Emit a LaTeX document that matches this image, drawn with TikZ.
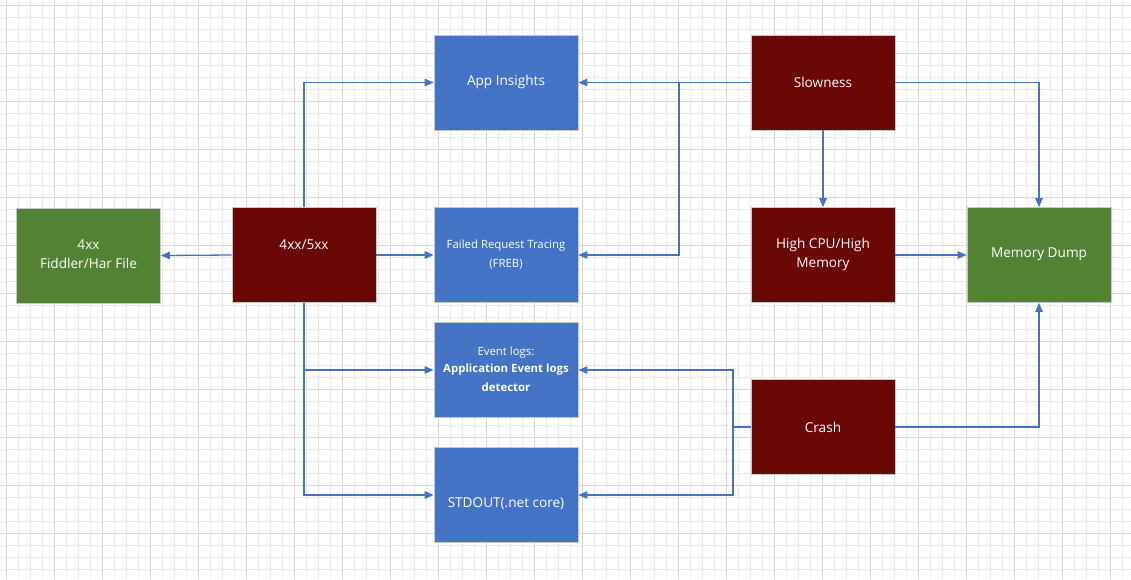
\documentclass[tikz,border=0pt]{standalone}
\usepackage{fontspec}
\setmainfont{Open Sans}
\usetikzlibrary{arrows.meta}
\definecolor{boxblue}{HTML}{4472C4}
\definecolor{boxred}{HTML}{6A0707}
\definecolor{boxgreen}{HTML}{548235}
\definecolor{linkblue}{HTML}{4472C4}
\definecolor{minorgrid}{HTML}{E8E8E8}
\definecolor{majorgrid}{HTML}{D4D4D4}
\begin{document}
\begin{tikzpicture}[x=1pt,y=-1pt,
  box/.style={draw=black!22, line width=0.8pt, minimum width=144pt, minimum height=95pt, inner sep=0pt, text=white, align=center},
  bluebox/.style={box, fill=boxblue},
  redbox/.style={box, fill=boxred},
  greenbox/.style={box, fill=boxgreen},
  link/.style={draw=linkblue, line width=1.3pt, -{Triangle[length=9pt,width=7.5pt]}},
  plainlink/.style={draw=linkblue, line width=1.3pt},
  lbl/.style={text=white, align=center, font=\fontsize{13.6}{19}\selectfont},
  small/.style={text=white, align=center, font=\fontsize{11.4}{19}\selectfont}
]
\useasboundingbox (0,0) rectangle (1131,579);
\fill[white] (0,0) rectangle (1131,579);
% grid
\foreach \i in {0,...,94} {\draw[minorgrid, line width=0.8pt] ({6+12*\i},0) -- ({6+12*\i},579);}
\foreach \j in {0,...,48} {\draw[minorgrid, line width=0.8pt] (0,{5+12*\j}) -- (1131,{5+12*\j});}
\foreach \i in {0,...,23} {\draw[majorgrid, line width=1pt] ({6+48*\i},0) -- ({6+48*\i},579);}
\foreach \j in {0,...,12} {\draw[majorgrid, line width=1pt] (0,{5+48*\j}) -- (1131,{5+48*\j});}

% boxes
\node[greenbox] (fid) at (88.5,255.5) {};
\node[redbox] (err) at (304,255) {};
\node[bluebox] (app) at (506,82.5) {};
\node[bluebox] (freb) at (506,255) {};
\node[bluebox] (evt) at (506,370) {};
\node[bluebox] (std) at (506,495) {};
\node[redbox] (slow) at (823,82.5) {};
\node[redbox] (cpu) at (823,255) {};
\node[greenbox] (mem) at (1039,255) {};
\node[redbox] (crash) at (823,427) {};

% labels
\node[lbl] (tfid) at (88.5,254.5) {4xx\\Fiddler/Har File};
\node[lbl] (terr) at (304,245) {4xx/5xx};
\node[lbl] (tapp) at (506,82) {App Insights};
\node[small] (tfreb) at (506,254.5) {Failed Request Tracing\\(FREB)};
\node[small] (tevt) at (506,369) {Event logs:\\[-2pt]\textbf{Application Event logs}\\\textbf{detector}};
\node[lbl] (tstd) at (506,504) {STDOUT(.net core)};
\node[lbl] (tslow) at (823,82) {Slowness};
\node[lbl] (tcpu) at (823,254.5) {High CPU/High\\Memory};
\node[lbl] (tmem) at (1039,254) {Memory Dump};
\node[lbl] (tcrash) at (823,427) {Crash};

% junction coordinates
\coordinate (j1) at (679,82.5);
\coordinate (j2) at (733,427);

% connectors from 4xx/5xx
\draw[link] (err.west) -- (fid.east);
\draw[link] (err.east) -- (freb.west);
\draw[link] (err.north) |- (app.west);
\draw[link] (err.south) |- (evt.west);
\draw[link] (err.south) |- (std.west);

% connectors from Slowness
\draw[link] (slow.west) -- (app.east);
\draw[link] (j1) |- (freb.east);
\draw[link] (slow.south) -- (cpu.north);
\draw[link] (slow.east) -| (mem.north);

% High CPU
\draw[link] (cpu.east) -- (mem.west);

% Crash
\draw[link] (crash.east) -| (mem.south);
\draw[plainlink] (crash.west) -- (j2);
\draw[link] (j2) |- (evt.east);
\draw[link] (j2) |- (std.east);
\end{tikzpicture}
\end{document}
